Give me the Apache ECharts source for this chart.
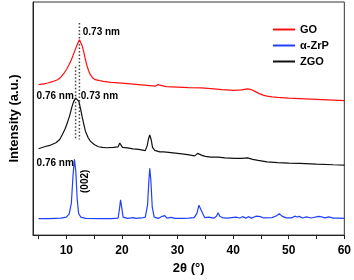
<!DOCTYPE html>
<html><head><meta charset="utf-8">
<script src="https://cdn.jsdelivr.net/npm/echarts@6/dist/echarts.min.js"></script>
<style>html,body{margin:0;padding:0;background:#fff}#c{width:354px;height:280px}</style>
</head><body><div id="c"></div>
<script>
// 2θ (degrees) and intensity (a.u., arbitrary offset units)
const goData = [[5,151],[6,151.8],[6.64,152.7],[7.5,154],[8.41,156],[9.0,158.5],[9.59,162.7],[10.05,166.5],[10.48,171],[10.9,176],[11.36,182.7],[11.8,189],[12.1,193],[12.35,196],[12.6,194.5],[12.85,190],[13.13,184],[13.4,177],[13.71,170],[14.0,165],[14.31,161],[14.7,158],[15.19,156],[16,155],[16.66,154.3],[18,153.3],[20,152.5],[22,151.5],[24,150.5],[26,149.5],[26.4,151],[26.7,149.3],[28,149],[30,148.5],[32,148],[34.3,147.7],[36,147],[38,146],[40.2,145.3],[41.5,145.7],[42.6,146.8],[43.3,146],[44,144],[44.7,142],[45.4,140.5],[46.1,139.5],[47,138.7],[48,138.2],[50,137.5],[52,137],[54,136.5],[56,136],[58,135.5],[60,135]];
const zrpData = [[5,16.5],[7,16.5],[9,17],[10,18],[10.5,21],[10.9,32],[11.2,60],[11.45,76],[11.7,64],[11.95,36],[12.2,22],[12.6,18],[13.5,16.8],[16,16.5],[18,16.5],[19.3,17],[19.55,26],[19.75,35.5],[19.95,28],[20.2,18],[21,16.8],[22,17.5],[22.5,16.8],[23.5,17.2],[24.2,18],[24.6,30],[24.85,55],[25.0,67],[25.2,55],[25.45,28],[25.8,18],[26.5,16.8],[27.1,18.5],[27.4,17.2],[27.7,19.5],[28.1,17],[28.9,17.8],[29.5,16.8],[31,16.8],[32,17],[33,17.5],[33.5,22],[33.85,30],[34.0,28],[34.2,30],[34.5,22],[34.9,17.5],[35.6,18],[36.5,17],[37.0,19],[37.3,22.5],[37.6,19],[38.2,17.2],[39,17],[40.5,18],[41.2,17.2],[41.7,18.5],[42.3,17],[42.7,18.5],[43.3,17],[44.1,19],[44.4,20.5],[44.9,18.5],[45.5,17.2],[47,17.5],[47.8,19.5],[48.3,21.5],[48.8,19],[49.5,17.3],[50.5,17.3],[51.1,19],[51.5,18.2],[51.9,18.8],[52.5,17.2],[53.2,18.3],[54,17.2],[55.4,18.8],[55.9,18.3],[56.5,17.3],[57.2,18.3],[58,17],[59,17],[60,16.7]];
const zgoData = [[5,86.7],[6.06,88.7],[7,90],[8.13,92.7],[8.8,96],[9.29,101],[9.8,107],[10.18,112.7],[10.6,120],[10.95,127.7],[11.3,134],[11.66,137.7],[11.95,137],[12.24,134.3],[12.55,127],[12.83,119.3],[13.15,111],[13.43,104.3],[13.9,98],[14.31,94.3],[15,91],[15.78,88.7],[16.5,88],[17.24,87.7],[18.5,88],[19.3,88.5],[19.6,92.5],[19.8,92],[20.1,88],[21,87.5],[22,86.5],[23,86],[24.2,84.8],[24.55,90],[24.8,97],[25.0,100.5],[25.25,96],[25.5,88],[25.9,85],[26.8,83.5],[27.5,83.5],[28.4,83],[30,82],[31.5,81],[33.1,79.5],[33.6,82],[33.95,83],[34.4,80],[35,79],[36,78.3],[37.3,78.3],[38.5,77.5],[40.2,77],[41.5,77],[42.6,77.5],[43.5,76],[44.5,75],[46.1,73.5],[48,72.8],[50,72.3],[52,72],[55,71.2],[58,70.6],[60,70.3]];
const guide1 = [[12.35,213],[12.35,96]];
const guide2 = [[11.66,169],[11.66,96]];
const xTicks = [5,10,15,20,25,30,35,40,45,50,55,60];
const xLabels = [10,20,30,40,50,60];
const annotations = [
  {text:'0.73 nm', x:12.95, y:204, rot:0},
  {text:'0.76 nm', x:4.65, y:139, rot:0},
  {text:'0.73 nm', x:12.6, y:139, rot:0},
  {text:'0.76 nm', x:4.65, y:72, rot:0},
  {text:'(002)', x:13.4, y:54, rot:90}
];

const FONT = 'Arial, "Liberation Sans", sans-serif';
const chart = echarts.init(document.getElementById('c'), null, {renderer:'canvas'});
const dotted = (d) => ({type:'line', data:d, symbol:'none', silent:true, z:1,
  lineStyle:{color:'#444', width:1.5, type:[1.5,2]}, legendHoverLink:false});
chart.setOption({
  animation:false,
  grid:{left:28, right:8, top:2, bottom:44, show:true, borderColor:'#333', borderWidth:1},
  legend:{orient:'vertical', left:268, top:19, itemGap:5, itemWidth:22, itemHeight:2, icon:'rect',
    textStyle:{fontFamily:FONT, fontWeight:'bold', fontSize:11, color:'#000', padding:[0,0,0,0]},
    data:['GO','α-ZrP','ZGO']},
  xAxis:{type:'value', min:4, max:60,
    axisLine:{lineStyle:{color:'#222', width:1}},
    axisTick:{customValues:xTicks, length:4, lineStyle:{color:'#222'}},
    axisLabel:{customValues:xLabels, margin:10, fontFamily:FONT, fontWeight:'bold', fontSize:12, color:'#000'},
    splitLine:{show:false},
    name:'2θ (°)', nameLocation:'middle', nameGap:22,
    nameTextStyle:{fontFamily:FONT, fontWeight:'bold', fontSize:13, color:'#000'}},
  yAxis:{type:'value', min:0, max:234,
    axisLine:{show:true, lineStyle:{color:'#222'}}, axisTick:{show:false}, axisLabel:{show:false},
    splitLine:{show:false},
    name:'Intensity (a.u.)', nameLocation:'middle', nameGap:12,
    nameTextStyle:{fontFamily:FONT, fontWeight:'bold', fontSize:13, color:'#000'}},
  series:[
    {name:'GO', type:'line', data:goData, symbol:'none', lineStyle:{color:'#ff1010', width:1.2}, itemStyle:{color:'#ff1010'}, z:3},
    {name:'α-ZrP', type:'line', data:zrpData, symbol:'none', lineStyle:{color:'#2040ff', width:1.2}, itemStyle:{color:'#2040ff'}, z:3},
    {name:'ZGO', type:'line', data:zgoData, symbol:'none', lineStyle:{color:'#111', width:1.2}, itemStyle:{color:'#111'}, z:3},
    dotted(guide1), dotted(guide2)
  ]
});
const g = annotations.map(a => {
  const p = chart.convertToPixel({gridIndex:0}, [a.x, a.y]);
  return {type:'text', x:p[0], y:p[1], rotation: a.rot ? Math.PI/2 : 0, z:10,
    style:{text:a.text, fill:'#000', font:'bold 10px ' + FONT,
      textAlign: a.rot ? 'center' : 'left', textVerticalAlign:'middle'}};
});
chart.setOption({graphic:g});
</script></body></html>
